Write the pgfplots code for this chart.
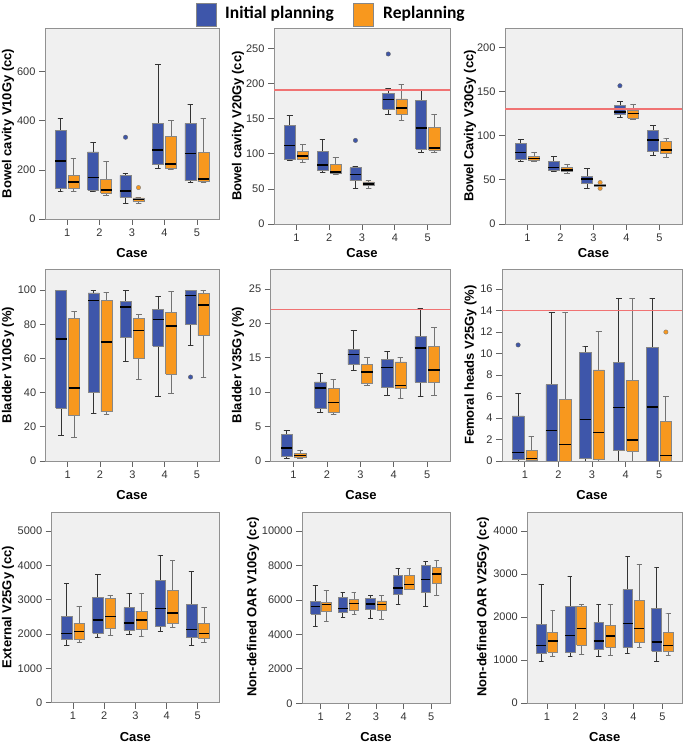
\documentclass[border=0pt]{standalone}
\usepackage{fontspec}
\setmainfont{Liberation Sans}
\newfontfamily\carlito{Carlito}
\usepackage{pgfplots}
\pgfplotsset{compat=1.18}

\definecolor{cblue}{RGB}{62,86,170}
\definecolor{corange}{RGB}{248,152,30}
\definecolor{bggray}{RGB}{240,240,240}
\definecolor{framegray}{RGB}{145,145,145}
\definecolor{axisgray}{RGB}{100,100,100}
\definecolor{boxgray}{RGB}{135,135,135}
\definecolor{refred}{RGB}{240,115,115}

\newcommand{\lab}{\fontsize{13bp}{15bp}\selectfont\bfseries}

% box: #1 position, #2 lower whisker, #3 lower quartile, #4 median, #5 upper quartile, #6 upper whisker, #7 B or O
\newcommand{\bx}[7]{%
 \pgfmathsetmacro\bxL{#1-0.17}\pgfmathsetmacro\bxR{#1+0.17}%
 \pgfmathsetmacro\bxl{#1-0.085}\pgfmathsetmacro\bxr{#1+0.085}%
 \edef\bxtmp{%
  \noexpand\addplot[#7whisker] coordinates {(\bxl,#2) (\bxr,#2) (#1,#2) (#1,#3)};
  \noexpand\addplot[#7whisker] coordinates {(#1,#5) (#1,#6) (\bxl,#6) (\bxr,#6)};
  \noexpand\addplot[#7box] coordinates {(\bxL,#3) (\bxR,#3) (\bxR,#5) (\bxL,#5) (\bxL,#3)};
  \noexpand\addplot[median] coordinates {(\bxL,#4) (\bxR,#4)};
 }\bxtmp}
% outlier: #1 position, #2 value, #3 B or O
\newcommand{\ol}[3]{\addplot[#3outlier] coordinates {(#1,#2)};}

\pgfplotsset{
 panel/.style={
  scale only axis, anchor=south west,
  xmin=0.32, xmax=5.68, ymin=0,
  xtick={1,2,3,4,5},
  tick align=outside, tick pos=left,
  major tick length=6bp,
  axis background/.style={fill=bggray},
  axis line style={framegray, line width=0.9bp},
  tick style={axisgray, line width=0.7bp},
  ticklabel style={font=\fontsize{11bp}{13bp}\selectfont, text=black!80},
  /pgf/number format/assume math mode=true,
  /pgf/number format/1000 sep={},
  scaled y ticks=false,
 },
 Bwhisker/.style={forget plot, black!80, line width=0.8bp},
 Owhisker/.style={forget plot, black!55, line width=0.8bp},
 Bbox/.style={forget plot, fill=cblue, draw=boxgray, line width=0.6bp},
 Obox/.style={forget plot, fill=corange, draw=boxgray, line width=0.6bp},
 median/.style={forget plot, black, line width=1.6bp},
 Boutlier/.style={forget plot, only marks, mark=*, mark size=2.2bp, mark options={fill=cblue, draw=black!60, line width=0.4bp}},
 Ooutlier/.style={forget plot, only marks, mark=*, mark size=2.2bp, mark options={fill=corange, draw=black!50, line width=0.4bp}},
 refline/.style={forget plot, color=refred, draw=refred, line width=1.6bp},
}

\begin{document}
\begin{tikzpicture}
\useasboundingbox (0bp,0bp) rectangle (685bp,743bp);

% ---------- legend
\filldraw[fill=cblue, draw=boxgray, line width=0.6bp] (196bp,717bp) rectangle (216bp,740bp);
\node[anchor=west, font=\carlito\bfseries\fontsize{17.5bp}{19bp}\selectfont, inner sep=0pt] at (225bp,729bp) {Initial planning};
\filldraw[fill=corange, draw=boxgray, line width=0.6bp] (353bp,717bp) rectangle (373bp,740bp);
\node[anchor=west, font=\carlito\bfseries\fontsize{17.5bp}{19bp}\selectfont, inner sep=0pt] at (383bp,729bp) {Replanning};

% ---------- Panel 1: Bowel cavity V10Gy
\begin{axis}[panel, at={(45bp,524bp)}, width=174bp, height=191bp, ymax=778, ytick={0,200,400,600}]
\bx{0.8}{114}{125}{237}{360}{411}{B}
\bx{1.2}{111}{124}{150}{178}{246}{O}
\bx{1.8}{114}{118}{169}{273}{310}{B}
\bx{2.2}{97}{106}{117}{162}{235}{O}
\bx{2.8}{64}{89}{113}{178}{186}{B}
\ol{2.8}{333}{B}
\bx{3.2}{64}{72}{80}{86}{89}{O}
\ol{3.2}{128}{O}
\bx{3.8}{206}{221}{282}{390}{628}{B}
\bx{4.2}{202}{206}{224}{338}{402}{O}
\bx{4.8}{149}{156}{266}{390}{467}{B}
\bx{5.2}{149}{152}{162}{271}{409}{O}
\end{axis}

% ---------- Panel 2: Bowel cavity V20Gy
\begin{axis}[panel, at={(274bp,519bp)}, width=176bp, height=196bp, ymax=279, ytick={0,50,100,150,200,250}]
\bx{0.8}{90.6}{91.5}{112}{140}{154}{B}
\bx{1.2}{87}{92}{97}{103}{114}{O}
\bx{1.8}{73.5}{77}{84}{103}{120}{B}
\bx{2.2}{70.7}{72}{74}{85}{95}{O}
\bx{2.8}{51}{61.7}{70.7}{80}{82.5}{B}
\ol{2.8}{119}{B}
\bx{3.2}{51}{54.6}{57}{59.8}{62.6}{O}
\bx{3.8}{156}{163}{177}{186}{193}{B}
\ol{3.8}{242}{B}
\bx{4.2}{147.5}{156}{165}{178}{198}{O}
\bx{4.8}{101.5}{107}{137}{176}{190}{B}
\bx{5.2}{101.5}{105}{108}{137}{155.6}{O}
\addplot[refline] coordinates {(0.32,191) (5.68,191)};
\end{axis}

% ---------- Panel 3: Bowel Cavity V30Gy
\begin{axis}[panel, at={(505bp,519bp)}, width=177bp, height=196bp, ymax=222, ytick={0,50,100,150,200}]
\bx{0.8}{70.6}{73.2}{80.8}{91.7}{95.5}{B}
\bx{1.2}{70.6}{71.7}{74}{76.6}{81}{O}
\bx{1.8}{59.2}{61}{63.8}{70.6}{76.6}{B}
\bx{2.2}{57.7}{59.2}{61}{64.2}{67.5}{O}
\bx{2.8}{40.4}{46}{51}{54}{63}{B}
\bx{3.2}{43}{43}{43.8}{44.5}{44.5}{O}
\ol{3.2}{40.4}{O}
\ol{3.2}{47}{O}
\bx{3.8}{121}{124}{127}{134}{139}{B}
\ol{3.8}{156.6}{B}
\bx{4.2}{118.5}{120}{125}{128.7}{136}{O}
\bx{4.8}{78}{82.6}{95}{105.7}{111.7}{B}
\bx{5.2}{75.5}{79.6}{84}{93.2}{97.4}{O}
\addplot[refline] coordinates {(0.32,130.5) (5.68,130.5)};
\end{axis}

% ---------- Panel 4: Bladder V10Gy
\begin{axis}[panel, at={(45.7bp,282bp)}, width=173.3bp, height=191.3bp, ymax=111.9, ytick={0,20,40,60,80,100}]
\bx{0.8}{15}{31.1}{71.4}{99.6}{99.8}{B}
\bx{1.2}{14}{26.5}{42.6}{83.2}{87.6}{O}
\bx{1.8}{27.7}{40}{93.8}{98.3}{99.6}{B}
\bx{2.2}{27.3}{28.8}{69.6}{93.8}{98.6}{O}
\bx{2.8}{58}{72.3}{90.1}{93.4}{100}{B}
\bx{3.2}{47.6}{60}{76.4}{83.2}{85.7}{O}
\bx{3.8}{37.9}{67.3}{82.8}{88.8}{96}{B}
\bx{4.2}{39.3}{51}{79.1}{86.7}{99}{O}
\bx{4.8}{67.7}{80}{96.7}{99.8}{99.8}{B}
\ol{4.8}{49.1}{B}
\bx{5.2}{49.1}{73.3}{91.3}{97.9}{99.8}{O}
\end{axis}

% ---------- Panel 5: Bladder V35Gy
\begin{axis}[panel, at={(270.7bp,282bp)}, width=179.3bp, height=191.3bp, ymax=27.8, ytick={0,5,10,15,20,25}]
\bx{0.8}{0.44}{0.73}{1.9}{3.9}{4.4}{B}
\bx{1.2}{0.44}{0.53}{0.82}{1.1}{1.55}{O}
\bx{1.8}{7.0}{7.65}{10.6}{11.5}{12.8}{B}
\bx{2.2}{6.7}{7.07}{8.5}{10.5}{11.9}{O}
\bx{2.8}{13.1}{14.05}{15.5}{16.2}{19.0}{B}
\bx{3.2}{10.95}{11.3}{12.9}{14.0}{15.0}{O}
\bx{3.8}{9.5}{10.7}{13.6}{14.8}{15.9}{B}
\bx{4.2}{9.1}{10.5}{10.95}{14.4}{15.0}{O}
\bx{4.8}{9.45}{11.5}{16.4}{18.1}{22.2}{B}
\bx{5.2}{9.5}{11.4}{13.2}{16.7}{19.4}{O}
\addplot[refline] coordinates {(0.32,22) (5.68,22)};
\end{axis}

% ---------- Panel 6: Femoral heads V25Gy
\begin{axis}[panel, at={(502bp,282bp)}, width=180bp, height=191.3bp, ymax=17.8, ytick={0,2,4,6,8,10,12,14,16}]
\bx{0.8}{0}{0.15}{0.78}{4.2}{6.3}{B}
\ol{0.8}{10.8}{B}
\bx{1.2}{0}{0.03}{0.22}{1.02}{2.26}{O}
\bx{1.8}{0}{0}{2.82}{7.1}{13.8}{B}
\bx{2.2}{0}{0}{1.52}{5.7}{13.8}{O}
\bx{2.8}{0}{0.22}{3.85}{10.1}{10.7}{B}
\bx{3.2}{0}{0.15}{2.67}{8.47}{12.1}{O}
\bx{3.8}{0}{1.02}{4.96}{9.18}{15.1}{B}
\bx{4.2}{0}{0.93}{1.98}{7.5}{15.1}{O}
\bx{4.8}{0}{0}{5.05}{10.57}{15.1}{B}
\bx{5.2}{0}{0}{0.5}{3.7}{6.0}{O}
\ol{5.2}{12.0}{O}
\addplot[refline] coordinates {(0.32,14) (5.68,14)};
\end{axis}

% ---------- Panel 7: External V25Gy
\begin{axis}[panel, at={(51.7bp,40.3bp)}, width=167.3bp, height=190.7bp, ymax=5553, ytick={0,1000,2000,3000,4000,5000}]
\bx{0.8}{1670}{1835}{2019}{2524}{3466}{B}
\bx{1.2}{1757}{1845}{2078}{2311}{2816}{O}
\bx{1.8}{1913}{2019}{2408}{3068}{3748}{B}
\bx{2.2}{1961}{2165}{2515}{3039}{3126}{O}
\bx{2.8}{1990}{2117}{2320}{2767}{3194}{B}
\bx{3.2}{1942}{2146}{2408}{2660}{3194}{O}
\bx{3.8}{2078}{2214}{2748}{3563}{4301}{B}
\bx{4.2}{2185}{2311}{2612}{3262}{4136}{O}
\bx{4.8}{1670}{1903}{2126}{2864}{3825}{B}
\bx{5.2}{1767}{1864}{2019}{2301}{2767}{O}
\end{axis}

% ---------- Panel 8: Non-defined OAR V10Gy
\begin{axis}[panel, at={(302bp,39.7bp)}, width=148bp, height=191.3bp, ymax=11100, ytick={0,2000,4000,6000,8000,10000}]
\bx{0.8}{4448}{5183}{5628}{5899}{6827}{B}
\bx{1.2}{4758}{5319}{5744}{5860}{6556}{O}
\bx{1.8}{4970}{5280}{5512}{6131}{6460}{B}
\bx{2.2}{5144}{5415}{5783}{6015}{6460}{O}
\bx{2.8}{4912}{5435}{5763}{6073}{6286}{B}
\bx{3.2}{4893}{5396}{5744}{5937}{6286}{O}
\bx{3.8}{5725}{6305}{6692}{7427}{7833}{B}
\bx{4.2}{6614}{6634}{6885}{7427}{7833}{O}
\bx{4.8}{5609}{6421}{7194}{7987}{8239}{B}
\bx{5.2}{6266}{6962}{7485}{7871}{8297}{O}
\end{axis}

% ---------- Panel 9: Non-defined OAR V25Gy
\begin{axis}[panel, at={(527.3bp,40bp)}, width=154.7bp, height=191bp, ymax=4442, ytick={0,1000,2000,3000,4000}]
\bx{0.8}{961}{1147}{1341}{1829}{2767}{B}
\bx{1.2}{1085}{1186}{1442}{1643}{2163}{O}
\bx{1.8}{1078}{1186}{1574}{2248}{2938}{B}
\bx{2.2}{1140}{1341}{1729}{2248}{2302}{O}
\bx{2.8}{1085}{1240}{1442}{1876}{2302}{B}
\bx{3.2}{1109}{1295}{1558}{1814}{2302}{O}
\bx{3.8}{1163}{1295}{1853}{2636}{3419}{B}
\bx{4.2}{1295}{1411}{1736}{2388}{3225}{O}
\bx{4.8}{961}{1209}{1419}{2202}{3163}{B}
\bx{5.2}{1101}{1202}{1341}{1651}{2093}{O}
\end{axis}

% ---------- axis titles
\node[rotate=90, font=\lab] at (8bp,619.5bp) {Bowel cavity V10Gy (cc)};
\node[font=\lab] at (132bp,490bp) {Case};
\node[rotate=90, font=\lab] at (238bp,617bp) {Bowel cavity V20Gy (cc)};
\node[font=\lab] at (362bp,490bp) {Case};
\node[rotate=90, font=\lab] at (470bp,617bp) {Bowel Cavity V30Gy (cc)};
\node[font=\lab] at (593.5bp,490bp) {Case};
\node[rotate=90, font=\lab] at (8bp,378bp) {Bladder V10Gy (\%)};
\node[font=\lab] at (132bp,248bp) {Case};
\node[rotate=90, font=\lab] at (238bp,378bp) {Bladder V35Gy (\%)};
\node[font=\lab] at (361bp,248bp) {Case};
\node[rotate=90, font=\lab] at (470.5bp,378bp) {Femoral heads V25Gy (\%)};
\node[font=\lab] at (592bp,248bp) {Case};
\node[rotate=90, font=\lab] at (8bp,136bp) {External V25Gy (cc)};
\node[font=\lab] at (135.4bp,6bp) {Case};
\node[rotate=90, font=\lab] at (253bp,136bp) {Non-defined OAR V10Gy (cc)};
\node[font=\lab] at (376bp,6bp) {Case};
\node[rotate=90, font=\lab] at (483bp,136bp) {Non-defined OAR V25Gy (cc)};
\node[font=\lab] at (604.7bp,6bp) {Case};
\end{tikzpicture}
\end{document}
